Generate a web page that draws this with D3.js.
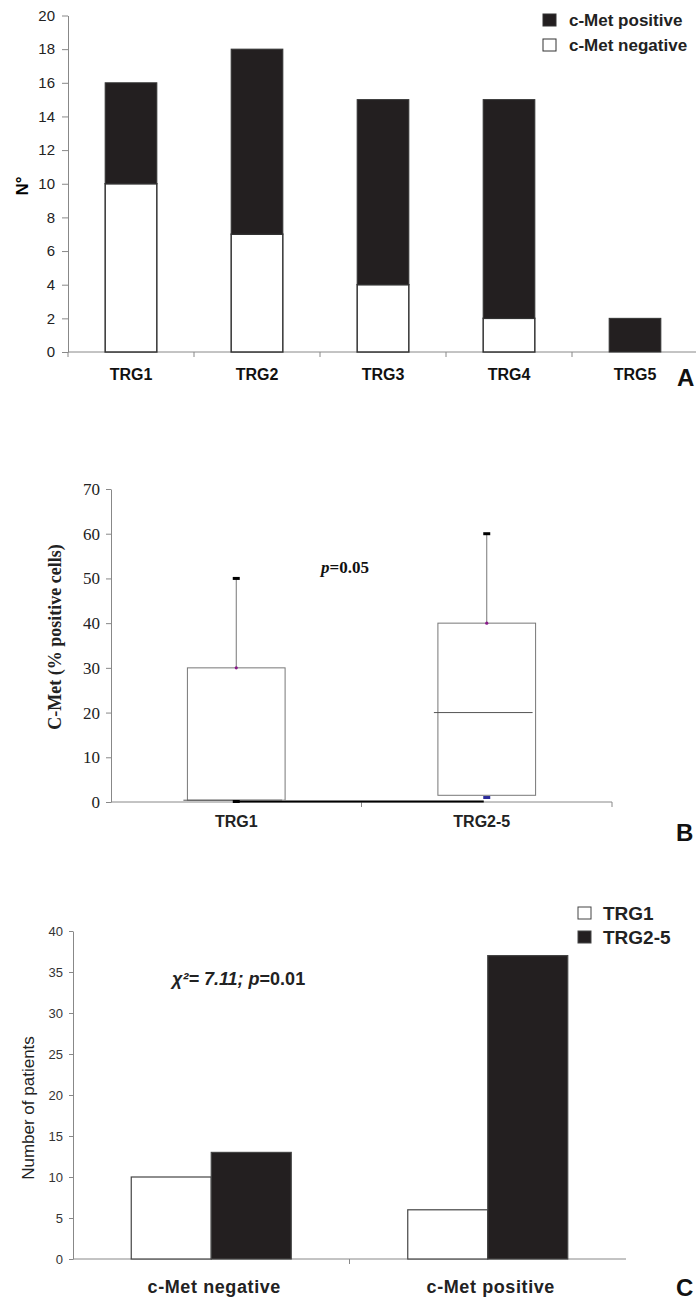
<!DOCTYPE html>
<html>
<head>
<meta charset="utf-8">
<script src="https://cdn.jsdelivr.net/npm/d3@7"></script>
<style>
  body { margin: 0; background: #fff; }
  svg { display: block; }
</style>
</head>
<body>
<div id="chart"></div>
<script>
// ---- panel A : stacked counts per TRG grade
var trgGroups = ["TRG1", "TRG2", "TRG3", "TRG4", "TRG5"];
var metNegative = [10, 7, 4, 2, 0];
var metPositive = [6, 11, 11, 13, 2];
var ticksA = [0, 2, 4, 6, 8, 10, 12, 14, 16, 18, 20];

// ---- panel B : box plot of % positive cells
var boxGroups = ["TRG1", "TRG2-5"];
var boxLow = [0, 1];
var boxQ1 = [0.4, 1.5];
var boxMedian = [0.4, 20];
var boxQ3 = [30, 40];
var boxHigh = [50, 60];
var ticksB = [0, 10, 20, 30, 40, 50, 60, 70];

// ---- panel C : grouped counts
var statusGroups = ["c-Met negative", "c-Met positive"];
var seriesC = ["TRG1", "TRG2-5"];
var trg1Counts = [10, 6];
var trg25Counts = [13, 37];
var ticksC = [0, 5, 10, 15, 20, 25, 30, 35, 40];

var sans = "'Liberation Sans', Arial, sans-serif";
var serif = "'Liberation Serif', 'Times New Roman', serif";
var dark = "#231f20";

var svg = d3.select("#chart")
  .append("svg")
    .attr("width", 696)
    .attr("height", 1302);

function styleAxis(g, col, font, size, fill) {
  g.select(".domain").attr("stroke", col);
  g.selectAll(".tick line").attr("stroke", col);
  g.selectAll(".tick text")
    .attr("font-family", font)
    .attr("font-size", size)
    .attr("fill", fill);
}

// =================== A ===================
var xA = d3.scaleBand().domain(trgGroups).range([68, 698]);
var yA = d3.scaleLinear().domain([0, 20]).range([352, 15.5]);
var bwA = xA.bandwidth() * 0.41;

var gA = svg.append("g");

var axA = gA.append("g")
  .attr("transform", "translate(68,0)")
  .call(d3.axisLeft(yA).tickValues(ticksA).tickSize(6).tickPadding(7).tickSizeOuter(0));
styleAxis(axA, "#888", sans, 15, "#222");
gA.append("line").attr("x1", 68).attr("x2", 68).attr("y1", yA(0)).attr("y2", yA(0) + 5).attr("stroke", "#888");

// x axis with ticks on the band boundaries
gA.append("line").attr("x1", xA.range()[0]).attr("x2", xA.range()[1])
  .attr("y1", yA(0)).attr("y2", yA(0)).attr("stroke", "#888");
gA.selectAll(".bt").data(trgGroups.map(function(d) { return xA(d); }).slice(1))
  .enter().append("line")
    .attr("x1", function(d) { return d; }).attr("x2", function(d) { return d; })
    .attr("y1", yA(0)).attr("y2", yA(0) + 5).attr("stroke", "#888");

trgGroups.forEach(function(g, i) {
  var cx = xA(g) + xA.bandwidth() / 2;
  if (metNegative[i] > 0) {
    gA.append("rect")
      .attr("x", cx - bwA / 2).attr("width", bwA)
      .attr("y", yA(metNegative[i])).attr("height", yA(0) - yA(metNegative[i]))
      .attr("fill", "#fff").attr("stroke", "#333").attr("stroke-width", 1.5);
  }
  var top = metNegative[i] + metPositive[i];
  gA.append("rect")
    .attr("x", cx - bwA / 2).attr("width", bwA)
    .attr("y", yA(top)).attr("height", yA(metNegative[i]) - yA(top))
    .attr("fill", dark).attr("stroke", "#333").attr("stroke-width", 1);
  gA.append("text")
    .attr("x", cx).attr("y", 380)
    .attr("text-anchor", "middle")
    .attr("font-family", sans).attr("font-weight", "bold").attr("font-size", 16)
    .attr("fill", "#111")
    .text(g);
});

gA.append("text")
  .attr("transform", "translate(28,186) rotate(-90)")
  .attr("text-anchor", "middle")
  .attr("font-family", sans).attr("font-weight", "bold").attr("font-size", 17)
  .text("N°");

var legA = [{ label: "c-Met positive", fill: dark }, { label: "c-Met negative", fill: "#fff" }];
legA.forEach(function(d, i) {
  var cy = 20 + i * 25;
  gA.append("rect").attr("x", 543).attr("y", cy - 6).attr("width", 13).attr("height", 12)
    .attr("fill", d.fill).attr("stroke", "#333").attr("stroke-width", 1);
  gA.append("text").attr("x", 569).attr("y", cy + 6)
    .attr("font-family", sans).attr("font-weight", "bold").attr("font-size", 17)
    .attr("fill", "#222").text(d.label);
});

gA.append("text").attr("x", 677).attr("y", 386)
  .attr("font-family", sans).attr("font-weight", "bold").attr("font-size", 24)
  .attr("fill", "#111").text("A");

// =================== B ===================
var xB = d3.scaleBand().domain(boxGroups).range([111, 612]);
var yB = d3.scaleLinear().domain([0, 70]).range([802, 489]);
var bwB = xB.bandwidth() * 0.39;

var gB = svg.append("g");

var axB = gB.append("g")
  .attr("transform", "translate(111,0)")
  .call(d3.axisLeft(yB).tickValues(ticksB).tickSize(5).tickPadding(6).tickSizeOuter(0));
styleAxis(axB, "#888", serif, 17, "#222");

gB.append("line").attr("x1", xB.range()[0]).attr("x2", xB.range()[1])
  .attr("y1", yB(0)).attr("y2", yB(0)).attr("stroke", "#888");
gB.selectAll(".bt").data(boxGroups.map(function(d) { return xB(d); }).slice(1).concat([xB.range()[1]]))
  .enter().append("line")
    .attr("x1", function(d) { return d; }).attr("x2", function(d) { return d; })
    .attr("y1", yB(0)).attr("y2", yB(0) + 5).attr("stroke", "#888");

var centersB = boxGroups.map(function(g) { return xB(g) + xB.bandwidth() / 2; });

// line joining the group minima
gB.append("line")
  .attr("x1", centersB[0]).attr("x2", centersB[1] - 3)
  .attr("y1", yB(0) - 0.5).attr("y2", yB(0) - 0.5)
  .attr("stroke", "#000").attr("stroke-width", 2);

boxGroups.forEach(function(g, i) {
  var cx = centersB[i];
  gB.append("line").attr("x1", cx).attr("x2", cx)
    .attr("y1", yB(boxHigh[i])).attr("y2", yB(boxQ3[i]))
    .attr("stroke", "#777").attr("stroke-width", 1);
  gB.append("rect")
    .attr("x", cx - bwB / 2).attr("width", bwB)
    .attr("y", yB(boxQ3[i])).attr("height", yB(boxQ1[i]) - yB(boxQ3[i]))
    .attr("fill", "#fff").attr("stroke", "#777").attr("stroke-width", 1);
  gB.append("line")
    .attr("x1", cx - bwB / 2 - 4).attr("x2", cx + bwB / 2 - 3)
    .attr("y1", yB(boxMedian[i])).attr("y2", yB(boxMedian[i]))
    .attr("stroke", "#555").attr("stroke-width", 1);
  gB.append("line")
    .attr("x1", cx - 3.5).attr("x2", cx + 3.5)
    .attr("y1", yB(boxHigh[i])).attr("y2", yB(boxHigh[i]))
    .attr("stroke", "#000").attr("stroke-width", 3);
  gB.append("circle").attr("cx", cx).attr("cy", yB(boxQ3[i])).attr("r", 1.6).attr("fill", "#8a1a8a");
  gB.append("line")
    .attr("x1", cx - 3.5).attr("x2", cx + 3.5)
    .attr("y1", yB(boxLow[i]) + (i === 0 ? -0.5 : 0)).attr("y2", yB(boxLow[i]) + (i === 0 ? -0.5 : 0))
    .attr("stroke", i === 0 ? "#000" : "#2a2a9a").attr("stroke-width", 3);
  gB.append("text")
    .attr("x", cx - (i === 0 ? 0 : 5)).attr("y", 827)
    .attr("text-anchor", "middle")
    .attr("font-family", sans).attr("font-weight", "bold").attr("font-size", 16)
    .attr("fill", "#222").text(g);
});

gB.append("text")
  .attr("transform", "translate(61,637) rotate(-90)")
  .attr("text-anchor", "middle")
  .attr("font-family", serif).attr("font-weight", "bold").attr("font-size", 18)
  .attr("fill", "#222")
  .text("C-Met (% positive cells)");

var pB = gB.append("text").attr("x", 321).attr("y", 573)
  .attr("font-family", serif).attr("font-weight", "bold").attr("font-size", 17).attr("fill", "#111");
pB.append("tspan").attr("font-style", "italic").text("p");
pB.append("tspan").text("=0.05");

gB.append("text").attr("x", 676).attr("y", 841)
  .attr("font-family", sans).attr("font-weight", "bold").attr("font-size", 24)
  .attr("fill", "#111").text("B");

// =================== C ===================
var xC = d3.scaleBand().domain(statusGroups).range([73, 626]);
var xCsub = d3.scaleBand().domain(seriesC).range([-80, 80]);
var yC = d3.scaleLinear().domain([0, 40]).range([1259, 931]);
var valuesC = { "TRG1": trg1Counts, "TRG2-5": trg25Counts };
var fillC = { "TRG1": "#fff", "TRG2-5": dark };

var gC = svg.append("g");

var axC = gC.append("g")
  .attr("transform", "translate(73,0)")
  .call(d3.axisLeft(yC).tickValues(ticksC).tickSize(4).tickPadding(6).tickSizeOuter(0));
styleAxis(axC, "#888", sans, 13, "#333");

gC.append("line").attr("x1", xC.range()[0]).attr("x2", xC.range()[1])
  .attr("y1", yC(0)).attr("y2", yC(0)).attr("stroke", "#888");
gC.selectAll(".bt").data(statusGroups.map(function(d) { return xC(d); }).slice(1))
  .enter().append("line")
    .attr("x1", function(d) { return d; }).attr("x2", function(d) { return d; })
    .attr("y1", yC(0)).attr("y2", yC(0) + 5).attr("stroke", "#888");

statusGroups.forEach(function(g, i) {
  var cx = xC(g) + xC.bandwidth() / 2;
  seriesC.forEach(function(s) {
    var v = valuesC[s][i];
    gC.append("rect")
      .attr("x", cx + xCsub(s)).attr("width", xCsub.bandwidth())
      .attr("y", yC(v)).attr("height", yC(0) - yC(v))
      .attr("fill", fillC[s]).attr("stroke", "#444").attr("stroke-width", 1.2);
  });
  gC.append("text")
    .attr("x", cx + 3).attr("y", 1293)
    .attr("text-anchor", "middle")
    .attr("font-family", sans).attr("font-weight", "bold").attr("font-size", 18)
    .attr("letter-spacing", 0.6)
    .attr("fill", "#222").text(g);
});

gC.append("text")
  .attr("transform", "translate(34,1108) rotate(-90)")
  .attr("text-anchor", "middle")
  .attr("font-family", sans).attr("font-size", 17)
  .attr("fill", "#222")
  .text("Number of patients");

var chi = gC.append("text").attr("x", 172).attr("y", 985)
  .attr("font-family", sans).attr("font-weight", "bold").attr("font-size", 18).attr("fill", "#222");
chi.append("tspan").attr("font-style", "italic").text("χ²= 7.11; p");
chi.append("tspan").text("=0.01");

seriesC.forEach(function(s, i) {
  var cy = 913 + i * 24;
  gC.append("rect").attr("x", 578).attr("y", cy - 6).attr("width", 13).attr("height", 12)
    .attr("fill", fillC[s]).attr("stroke", "#444").attr("stroke-width", 1);
  gC.append("text").attr("x", 603).attr("y", cy + 7)
    .attr("font-family", sans).attr("font-weight", "bold").attr("font-size", 19)
    .attr("fill", "#222").text(s);
});

gC.append("text").attr("x", 676).attr("y", 1296)
  .attr("font-family", sans).attr("font-weight", "bold").attr("font-size", 24)
  .attr("fill", "#111").text("C");
</script>
</body>
</html>
